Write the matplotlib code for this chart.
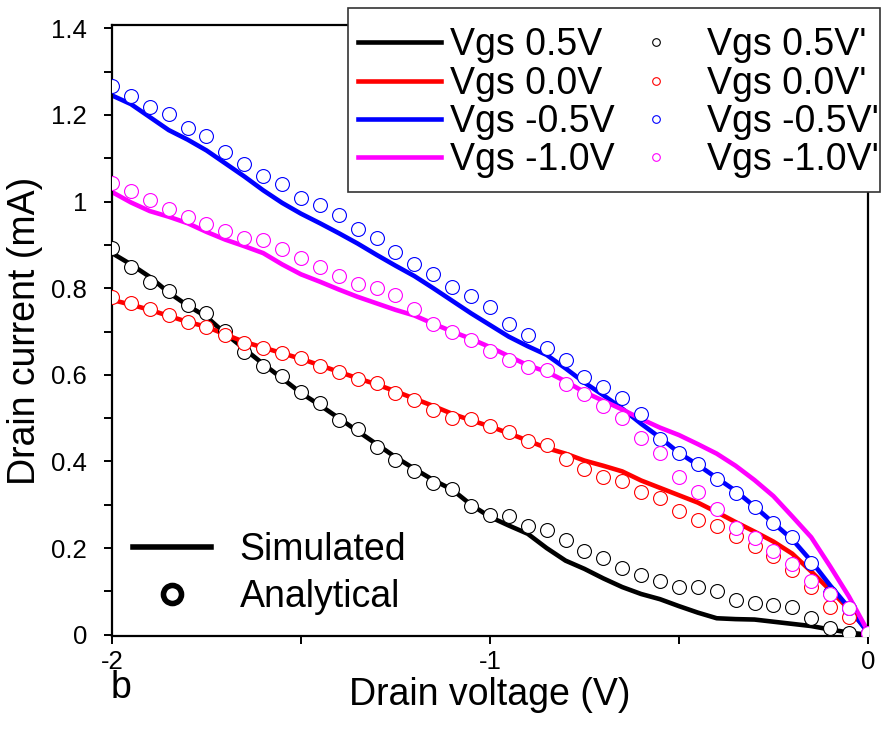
import matplotlib
matplotlib.use('Agg')
import matplotlib.pyplot as plt
from matplotlib.lines import Line2D
from matplotlib.patches import Rectangle
from matplotlib.ticker import MultipleLocator, FormatStrFormatter

plt.rcParams['font.family'] = ['Liberation Sans', 'DejaVu Sans']
plt.rcParams['axes.unicode_minus'] = False

# drain voltage grid (V), shared by all series
vd = [-2.00, -1.95, -1.90, -1.85, -1.80, -1.75, -1.70, -1.65, -1.60, -1.55,
      -1.50, -1.45, -1.40, -1.35, -1.30, -1.25, -1.20, -1.15, -1.10, -1.05,
      -1.00, -0.95, -0.90, -0.85, -0.80, -0.75, -0.70, -0.65, -0.60, -0.55,
      -0.50, -0.45, -0.40, -0.35, -0.30, -0.25, -0.20, -0.15, -0.10, -0.05, 0.00]

# simulated drain current (mA)
sim_p05 = [0.881, 0.855, 0.826, 0.790, 0.760, 0.734, 0.695, 0.660, 0.625, 0.592,
           0.558, 0.530, 0.500, 0.470, 0.440, 0.410, 0.383, 0.357, 0.335, 0.300,
           0.272, 0.252, 0.233, 0.200, 0.171, 0.152, 0.130, 0.110, 0.094, 0.082,
           0.066, 0.051, 0.038, 0.036, 0.035, 0.030, 0.025, 0.020, 0.012, 0.005, 0.000]
sim_00 = [0.773, 0.762, 0.750, 0.736, 0.722, 0.711, 0.693, 0.676, 0.663, 0.650,
          0.637, 0.622, 0.607, 0.592, 0.578, 0.562, 0.545, 0.528, 0.510, 0.495,
          0.481, 0.465, 0.448, 0.431, 0.418, 0.402, 0.390, 0.377, 0.356, 0.339,
          0.322, 0.305, 0.283, 0.260, 0.238, 0.215, 0.187, 0.146, 0.103, 0.059, 0.008]
sim_m05 = [1.245, 1.225, 1.195, 1.165, 1.143, 1.118, 1.088, 1.058, 1.026, 0.997,
           0.972, 0.950, 0.927, 0.903, 0.877, 0.852, 0.828, 0.800, 0.771, 0.742,
           0.715, 0.688, 0.666, 0.646, 0.615, 0.582, 0.553, 0.522, 0.487, 0.455,
           0.420, 0.392, 0.362, 0.332, 0.296, 0.258, 0.220, 0.170, 0.114, 0.062, 0.005]
sim_m10 = [1.022, 0.998, 0.978, 0.965, 0.950, 0.930, 0.912, 0.897, 0.881, 0.855,
           0.832, 0.815, 0.797, 0.780, 0.765, 0.750, 0.737, 0.718, 0.700, 0.683,
           0.664, 0.643, 0.622, 0.607, 0.585, 0.560, 0.540, 0.520, 0.498, 0.478,
           0.461, 0.440, 0.418, 0.390, 0.357, 0.320, 0.273, 0.225, 0.158, 0.088, 0.008]

# analytical drain current (mA)
ana_p05 = [0.892, 0.849, 0.815, 0.793, 0.761, 0.742, 0.702, 0.653, 0.621, 0.598,
           0.561, 0.536, 0.496, 0.474, 0.434, 0.404, 0.377, 0.351, 0.336, 0.296,
           0.277, 0.273, 0.251, 0.241, 0.219, 0.194, 0.177, 0.154, 0.137, 0.125,
           0.111, 0.111, 0.102, 0.081, 0.073, 0.068, 0.065, 0.038, 0.015, 0.004, 0.000]
ana_00 = [0.779, 0.765, 0.753, 0.738, 0.723, 0.710, 0.692, 0.674, 0.661, 0.650,
          0.638, 0.620, 0.606, 0.590, 0.580, 0.559, 0.542, 0.519, 0.500, 0.497,
          0.482, 0.467, 0.447, 0.437, 0.406, 0.382, 0.365, 0.354, 0.329, 0.315,
          0.286, 0.265, 0.250, 0.227, 0.204, 0.181, 0.150, 0.111, 0.065, 0.042, 0.005]
ana_m05 = [1.267, 1.243, 1.218, 1.201, 1.170, 1.152, 1.115, 1.086, 1.059, 1.040,
           1.009, 0.992, 0.970, 0.936, 0.915, 0.884, 0.855, 0.832, 0.803, 0.782,
           0.757, 0.717, 0.693, 0.663, 0.634, 0.596, 0.571, 0.546, 0.509, 0.451,
           0.419, 0.394, 0.359, 0.327, 0.294, 0.258, 0.226, 0.165, 0.097, 0.062, 0.005]
ana_m10 = [1.042, 1.024, 1.003, 0.982, 0.965, 0.948, 0.932, 0.917, 0.911, 0.890,
           0.869, 0.849, 0.829, 0.809, 0.800, 0.784, 0.752, 0.717, 0.700, 0.680,
           0.655, 0.634, 0.619, 0.611, 0.579, 0.555, 0.528, 0.501, 0.455, 0.419,
           0.365, 0.329, 0.290, 0.246, 0.223, 0.194, 0.163, 0.125, 0.094, 0.062, 0.005]

sim_labels = ['Vgs 0.5V', 'Vgs 0.0V', 'Vgs -0.5V', 'Vgs -1.0V']
ana_labels = ["Vgs 0.5V'", "Vgs 0.0V'", "Vgs -0.5V'", "Vgs -1.0V'"]
colors = ['black', 'red', 'blue', 'magenta']

sim_all = [sim_p05, sim_00, sim_m05, sim_m10]
ana_all = [ana_p05, ana_00, ana_m05, ana_m10]

fig = plt.figure(figsize=(8.82, 7.43), dpi=100)
ax = fig.add_axes([0.127, 0.144, 0.857, 0.822])

line_handles = []
for y, c, lab in zip(sim_all, colors, sim_labels):
    h, = ax.plot(vd, y, color=c, linewidth=3.3, label=lab, zorder=2)
    line_handles.append(h)

marker_handles = []
for y, c, lab in zip(ana_all, colors, ana_labels):
    h, = ax.plot(vd, y, linestyle='none', marker='o', markersize=10,
                 markerfacecolor='white', markeredgecolor=c,
                 markeredgewidth=0.8, label=lab, zorder=3)
    marker_handles.append(h)

ax.set_xlim(-2, 0)
ax.set_ylim(-0.003, 1.407)
ax.xaxis.set_major_locator(MultipleLocator(1))
ax.xaxis.set_minor_locator(MultipleLocator(0.5))
ax.yaxis.set_major_locator(MultipleLocator(0.2))
ax.yaxis.set_minor_locator(MultipleLocator(0.1))
ax.yaxis.set_major_formatter(FormatStrFormatter('%g'))
ax.xaxis.set_major_formatter(FormatStrFormatter('%g'))

for s in ax.spines.values():
    s.set_linewidth(1.6)
ax.tick_params(which='both', direction='out', length=6, width=1.4,
               labelsize=18.5, top=False, right=False)
ax.tick_params(axis='y', pad=12)
ax.tick_params(axis='x', pad=4)

ax.set_xlabel('Drain voltage (V)', fontsize=27, labelpad=2)
ax.set_ylabel('Drain current (mA)', fontsize=27, labelpad=6)

# legend box (drawn separately: it has more padding top/bottom than at the sides)
box = Rectangle((348 / 882, 1 - 192 / 743), 532 / 882, 184 / 743,
                transform=fig.transFigure, facecolor='white',
                edgecolor='#333333', linewidth=1.2, zorder=4)
fig.add_artist(box)

leg1 = fig.legend(line_handles + marker_handles,
                  sim_labels + ana_labels,
                  ncol=2, loc='upper right', bbox_to_anchor=(0.996, 0.963),
                  borderaxespad=0.0, borderpad=0.0,
                  fontsize=27, frameon=False,
                  handlelength=2.2, handletextpad=0.25,
                  columnspacing=0.0, labelspacing=0.06,
                  markerscale=0.55)
leg1.set_zorder(5)

style_handles = [
    Line2D([], [], color='black', linewidth=4),
    Line2D([], [], linestyle='none', marker='o', markersize=13,
           markerfacecolor='white', markeredgecolor='black', markeredgewidth=4),
]
leg2 = ax.legend(style_handles, ['Simulated', 'Analytical'],
                 loc='lower left', bbox_to_anchor=(0.0, 0.0),
                 fontsize=27, frameon=False, handlelength=2.1,
                 handletextpad=0.75, labelspacing=0.3, borderaxespad=0.15)

fig.text(0.125, 0.074, 'b', fontsize=27, ha='left', va='center')

fig.savefig('out.png', dpi=100)
